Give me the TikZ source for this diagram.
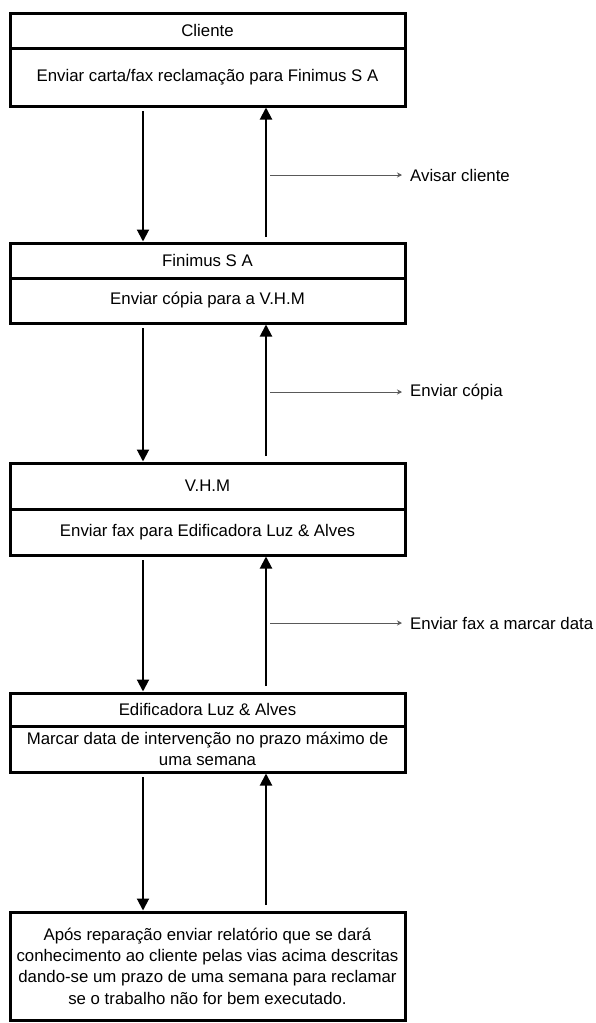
\documentclass[tikz,border=0pt]{standalone}
\usepackage{fontspec}
\setmainfont{Liberation Sans}
\usetikzlibrary{arrows.meta, positioning, calc}

\begin{document}
\begin{tikzpicture}[
    x=1pt, y=-1pt,
    head/.style = {rectangle, draw, line width=3pt, minimum width=395pt, inner sep=0pt, outer sep=0pt, align=center, font=\fontsize{16.8}{21.3}\selectfont},
    task/.style = {head},
    flow/.style = {line width=2pt, shorten >=1.5pt, -{Triangle[length=12pt, width=12pt]}},
    note/.style = {draw=black!65, line width=1pt, -{Stealth[length=5pt, width=5pt]}},
    notetext/.style = {anchor=west, inner sep=0pt, font=\fontsize{16.8}{21.3}\selectfont}
]
\useasboundingbox (0,0) rectangle (596,1023);

% Cliente
\node (cliente) [head, minimum height=35pt] at (207.5, 30.5) {Cliente};
\node (cartafax) [task, minimum height=58pt, below=0pt of cliente] {Enviar carta/fax reclamação para Finimus S A};

% Finimus S A
\node (finimus) [head, minimum height=35pt] at (207.5, 260.5) {Finimus S A};
\node (copia) [task, minimum height=45pt, below=0pt of finimus] {Enviar cópia para a V.H.M};

% V.H.M
\node (vhm) [head, minimum height=46pt] at (207.5, 486) {V.H.M};
\node (faxluz) [task, minimum height=46pt, below=0pt of vhm] {Enviar fax para Edificadora Luz \& Alves};

% Edificadora Luz & Alves
\node (luzalves) [head, minimum height=33pt] at (207.5, 709.5) {Edificadora Luz \& Alves};
\node (marcar) [task, minimum height=46pt, below=0pt of luzalves] {Marcar data de intervenção no prazo máximo de\\uma semana};

% Relatorio final
\node (relatorio) [task, minimum height=108pt] at (207.5, 966) {Após reparação enviar relatório que se dará\\conhecimento ao cliente pelas vias acima descritas\\dando-se um prazo de uma semana para reclamar\\se o trabalho não for bem executado.};

% Flow down / up
\draw [flow] ($(cartafax.south)+(-64.5,5)$) -- ($(finimus.north)+(-64.5,0)$);
\draw [flow] ($(finimus.north)+(58.5,-6)$) -- ($(cartafax.south)+(58.5,0)$);

\draw [flow] ($(copia.south)+(-64.5,5)$) -- ($(vhm.north)+(-64.5,0)$);
\draw [flow] ($(vhm.north)+(58.5,-7)$) -- ($(copia.south)+(58.5,0)$);

\draw [flow] ($(faxluz.south)+(-64.5,5)$) -- ($(luzalves.north)+(-64.5,0)$);
\draw [flow] ($(luzalves.north)+(58.5,-7)$) -- ($(faxluz.south)+(58.5,0)$);

\draw [flow] ($(marcar.south)+(-64.5,5)$) -- ($(relatorio.north)+(-64.5,0)$);
\draw [flow] ($(relatorio.north)+(58.5,-7)$) -- ($(marcar.south)+(58.5,0)$);

% Notes
\coordinate (avisarfrom) at (270,175);
\node (avisar) [notetext] at (410,175) {Avisar cliente};
\draw [note] (avisarfrom) -- ([xshift=-8pt]avisar.west);

\coordinate (enviarfrom) at (270,392);
\node (enviar) [notetext] at (410,392) {Enviar cópia};
\draw [note] (enviarfrom) -- ([xshift=-8pt]enviar.west);

\coordinate (datafrom) at (270,623);
\node (data) [notetext] at (410,623) {Enviar fax a marcar data};
\draw [note] (datafrom) -- ([xshift=-8pt]data.west);

\end{tikzpicture}
\end{document}
